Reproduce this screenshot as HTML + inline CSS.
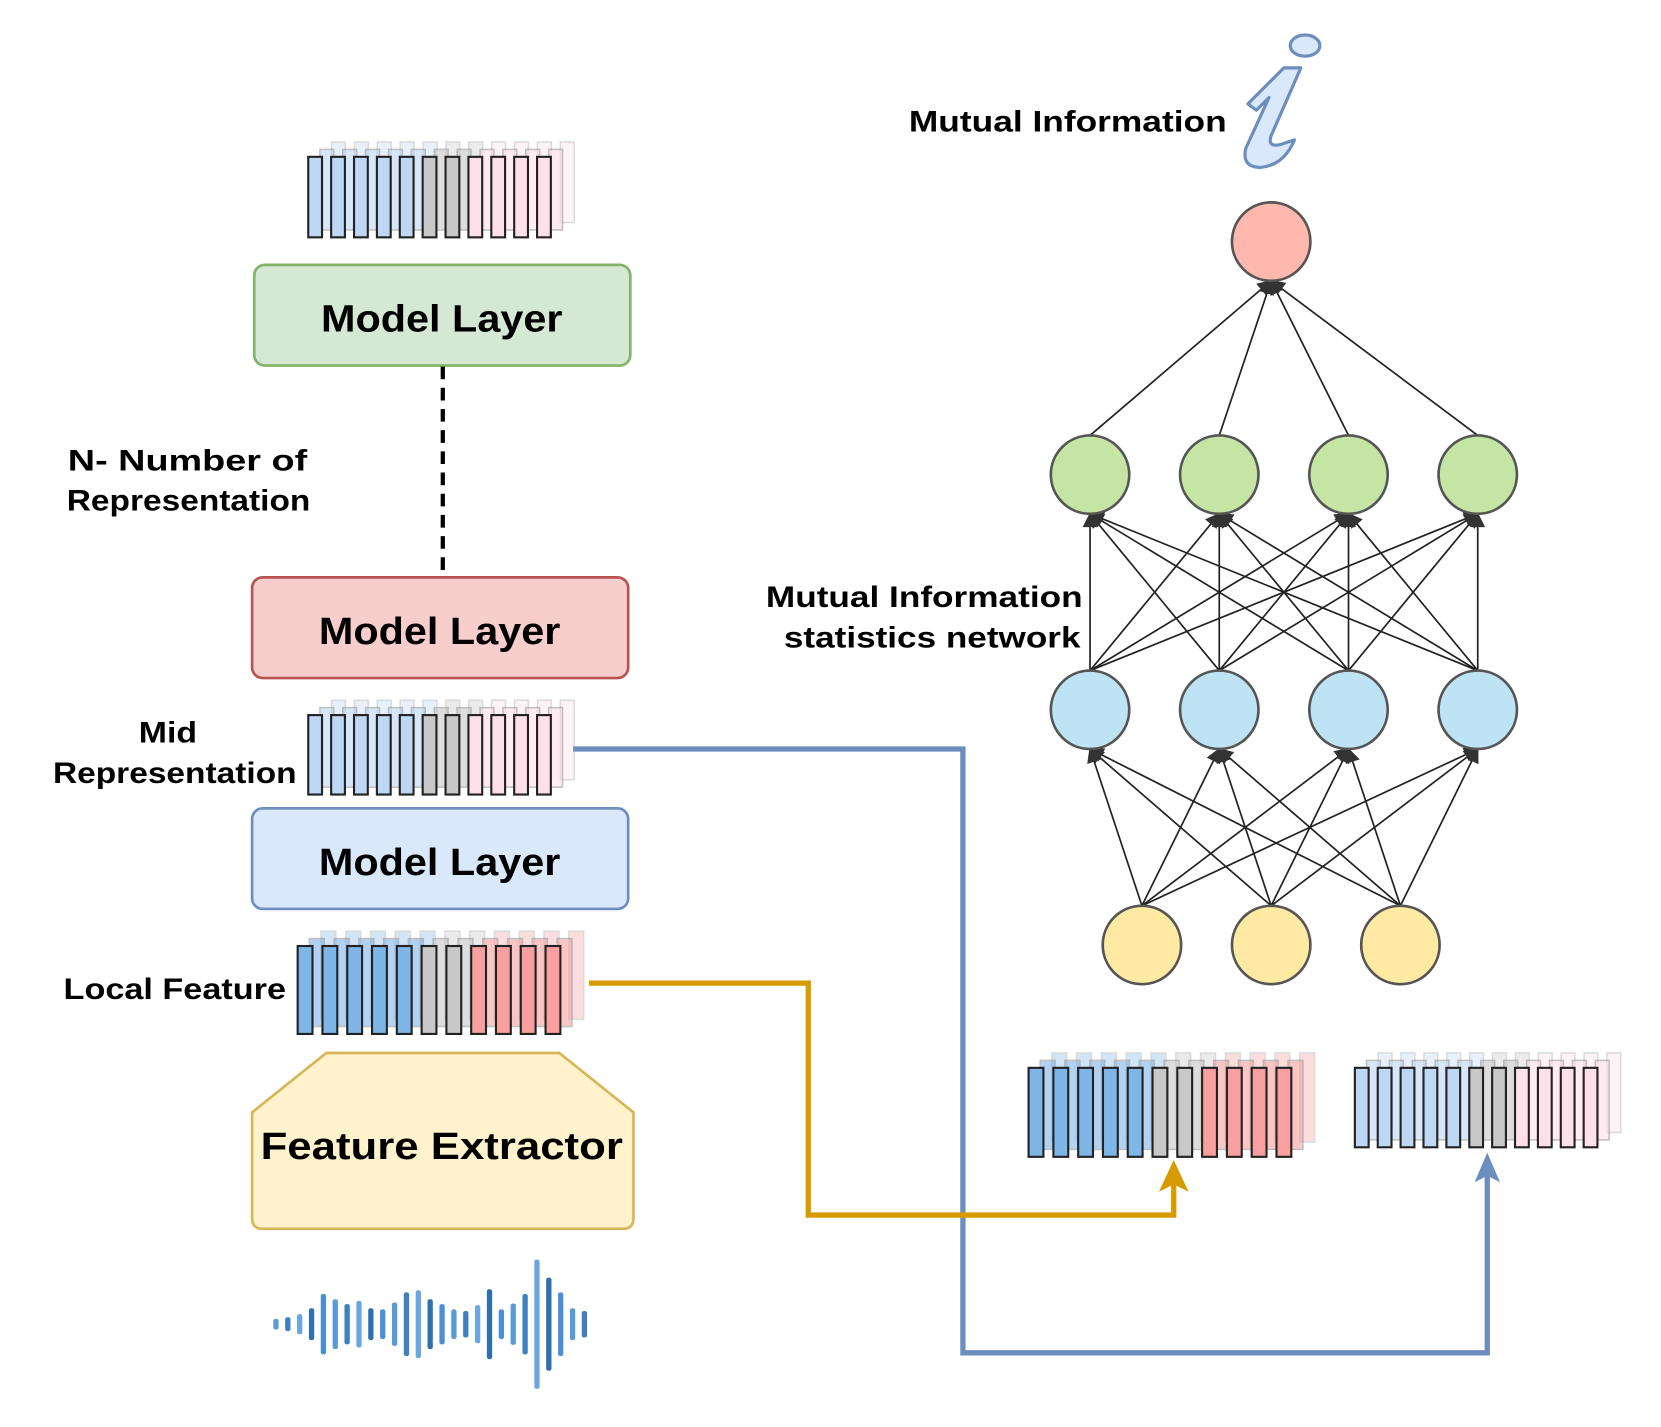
<!DOCTYPE html>
<html><head><meta charset="utf-8"><style>
html,body{margin:0;padding:0;background:#fff}
svg{display:block}
text{font-family:"Liberation Sans",sans-serif;font-weight:bold;fill:#000}
</style></head><body>
<svg id="s" width="1661" height="1427" viewBox="0 0 1568 1347" xmlns="http://www.w3.org/2000/svg">
<defs>
<marker id="ah" viewBox="0 0 10 10" refX="9" refY="5" markerWidth="16" markerHeight="14" orient="auto" markerUnits="userSpaceOnUse"><path d="M0,0 L10,5 L0,10 z" fill="#333"/></marker>
</defs>
<rect width="1568" height="1347" fill="#fff"/>
<g id="net"></g>
<g id="vecs"></g>
<rect x="240" y="250" width="355" height="95" rx="10" fill="#d5e8d4" stroke="#82b366" stroke-width="2.5"/>
<text x="303" y="313" font-size="36" textLength="228" lengthAdjust="spacingAndGlyphs">Model Layer</text>
<line x1="418" y1="346" x2="418" y2="545" stroke="#000" stroke-width="4" stroke-dasharray="12,8"/>
<rect x="238" y="545" width="355" height="95" rx="10" fill="#f8cecc" stroke="#b85450" stroke-width="2.5"/>
<text x="301" y="608" font-size="36" textLength="228" lengthAdjust="spacingAndGlyphs">Model Layer</text>
<rect x="238" y="763" width="355" height="95" rx="10" fill="#dae8fc" stroke="#6c8ebf" stroke-width="2.5"/>
<text x="301" y="826" font-size="36" textLength="228" lengthAdjust="spacingAndGlyphs">Model Layer</text>
<path d="M238,1050 L308,994 L528,994 L598,1050 L598,1150 Q598,1160 588,1160 L248,1160 Q238,1160 238,1150 Z" fill="#fff2cc" stroke="#d6b656" stroke-width="2.5"/>
<text x="246" y="1094" font-size="36" textLength="342" lengthAdjust="spacingAndGlyphs">Feature Extractor</text>
<text x="64" y="444" font-size="28" textLength="226" lengthAdjust="spacingAndGlyphs">N- Number of</text>
<text x="63" y="482" font-size="28" textLength="230" lengthAdjust="spacingAndGlyphs">Representation</text>
<text x="131" y="701" font-size="28" textLength="55" lengthAdjust="spacingAndGlyphs">Mid</text>
<text x="50" y="739" font-size="28" textLength="230" lengthAdjust="spacingAndGlyphs">Representation</text>
<text x="60" y="943" font-size="28" textLength="210" lengthAdjust="spacingAndGlyphs">Local Feature</text>
<text x="858" y="124" font-size="28" textLength="300" lengthAdjust="spacingAndGlyphs">Mutual Information</text>
<text x="723" y="573" font-size="28" textLength="299" lengthAdjust="spacingAndGlyphs">Mutual Information</text>
<text x="740" y="611" font-size="28" textLength="280" lengthAdjust="spacingAndGlyphs">statistics network</text>
<ellipse cx="1232" cy="43" rx="14" ry="10" fill="#dae8fc" stroke="#6c8ebf" stroke-width="3"/>
<path d="M1178,98 L1212,64 L1228,64 L1200,128 Q1196,140 1210,136 L1222,132 Q1212,156 1190,158 Q1172,158 1176,140 L1198,92 L1186,104 Z" fill="#dae8fc" stroke="#6c8ebf" stroke-width="3" stroke-linejoin="round"/>
<polyline points="541,707 909,707 909,1277 1404,1277 1404,1108" fill="none" stroke="#6c8ebf" stroke-width="5"/>
<path d="M1404,1088 L1416,1116 L1404,1110 L1392,1116 Z" fill="#6c8ebf"/>
<polyline points="556,928 763,928 763,1147 1108,1147 1108,1115" fill="none" stroke="#d79b00" stroke-width="5"/>
<path d="M1108,1095 L1122,1125 L1108,1118 L1094,1125 Z" fill="#d79b00"/>
<g id="wave"></g>
</svg>
<script>
var NS="http://www.w3.org/2000/svg";
function el(p,t,a){var e=document.createElementNS(NS,t);for(var k in a)e.setAttribute(k,a[k]);p.appendChild(e);return e;}
var net=document.getElementById('net');
var red=[[1200,228]],green=[1029,1151,1273,1395].map(function(x){return[x,448]}),blue=[1029,1151,1273,1395].map(function(x){return[x,670]}),yel=[1078,1200,1322].map(function(x){return[x,892]});
var R=37;
function conn(A,B){A.forEach(function(a){B.forEach(function(b){
 var sx=a[0],sy=a[1]-R,tx=b[0],ty=b[1]+R;
 el(net,'line',{x1:sx,y1:sy,x2:tx,y2:ty,stroke:'#222','stroke-width':1.6,'marker-end':'url(#ah)'});});});}
conn(yel,blue);conn(blue,green);conn(green,red);
function circ(L,f){L.forEach(function(c){el(net,'circle',{cx:c[0],cy:c[1],r:R,fill:f,stroke:'#555','stroke-width':2.5});});}
circ(red,'#ffb8ad');circ(green,'#c5e5a5');circ(blue,'#bde3f5');circ(yel,'#ffe9a3');
var vecs=document.getElementById('vecs');
function vec(x0,yTop,yBot,sp,w,cols){
 var layers=[[22,-14,0.35],[11,-7,0.6],[0,0,1]];
 layers.forEach(function(L){
  for(var i=0;i<11;i++){
   var c=cols[i<5?0:(i<7?1:2)];
   el(vecs,'rect',{x:x0+L[0]+i*sp,y:yTop+L[1],width:w,height:yBot-yTop,fill:c,stroke:L[2]==1?'#222':'#999','stroke-width':L[2]==1?2:1.5,opacity:L[2]});
  }});
}
var light=['#bdd7f5','#c8c8c8','#ffdfe9'],dark=['#7eb6e8','#c8c8c8','#f8a0a0'];
vec(291,148,224,21.6,13,light);
vec(291,675,750,21.6,13,light);
vec(281,893,976,23.4,14,dark);
vec(971,1008,1092,23.4,14,dark);
vec(1279,1008,1083,21.6,13,light);
var wave=document.getElementById('wave');
var hs=[10,13,19,30,57,47,38,44,30,28,41,60,64,47,38,28,25,36,66,28,39,57,122,88,60,30,25];
var wc=['#5b9bd5','#3e7fc1','#6aa6e0','#2f6fb0','#4a8fd6'];
for(var i=0;i<hs.length;i++){var x=258+i*11.2;el(wave,'rect',{x:x,y:1250-hs[i]/2,width:5,height:hs[i],rx:2,fill:wc[i%5]});}
</script>
</body></html>
